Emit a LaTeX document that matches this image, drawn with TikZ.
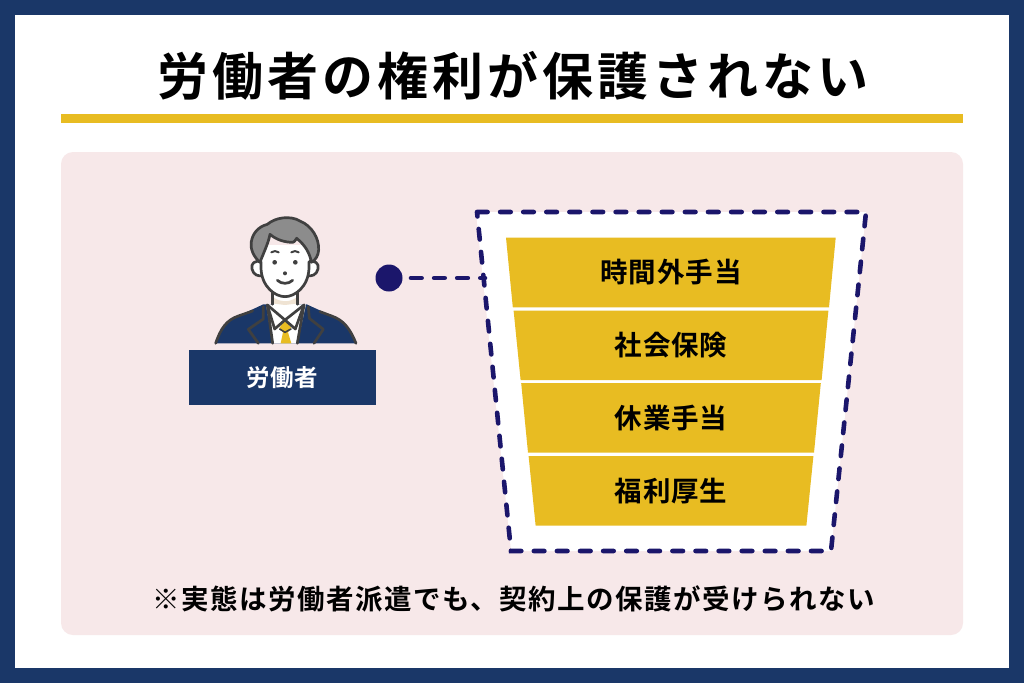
\documentclass[tikz,border=0pt]{standalone}
\usepackage{fontspec}
\newfontfamily\jbt{Noto Sans CJK JP Bold}[LetterSpace=8]
\newfontfamily\jbl{Noto Sans CJK JP Bold}[LetterSpace=5.5]
\newfontfamily\jbs{Noto Sans CJK JP Bold}[LetterSpace=3.5]
\newfontfamily\jbw{Noto Sans CJK JP Bold}[LetterSpace=2]
\definecolor{navy}{HTML}{1A3768}
\definecolor{gold}{HTML}{E8BC22}
\definecolor{pinkbg}{HTML}{F7E8E9}
\definecolor{dashc}{HTML}{1B166B}
\definecolor{hair}{HTML}{8C8C8C}
\definecolor{ink}{HTML}{404040}
\definecolor{neck}{HTML}{EFE3D3}
\tikzset{
 x=1pt,y=-1pt,
 level/.style={fill=gold,draw=none},
 levellabel/.style={font=\jbs\fontsize{27.5}{30}\selectfont,text=black,inner sep=0pt,anchor=center},
 dashline/.style={draw=dashc,line width=4.6pt,dash pattern=on 10.6pt off 12.5pt,line cap=round},
 figline/.style={draw=ink,line width=2.7pt,line join=round,line cap=round},
}
\begin{document}
\begin{tikzpicture}
\useasboundingbox (0,0) rectangle (1024,683);
\fill[navy] (0,0) rectangle (1024,683);
\fill[white] (15,15) rectangle (1009,668);
\node[inner sep=0pt,font=\jbt\fontsize{51}{55}\selectfont,text=black] (title) at (513,75.5) {労働者の権利が保護されない};
\fill[gold] (61,114) rectangle (963,123);
\fill[pinkbg,rounded corners=12pt] (61,152) rectangle (963,635);
\node[inner sep=0pt,font=\jbl\fontsize{27.5}{30}\selectfont,text=black] (note) at (513.5,599) {※実態は労働者派遣でも、契約上の保護が受けられない};
% frame
\fill[white] (476,212) -- (866,212) -- (831,551) -- (511,551) -- cycle;
\draw[dashline] (477,212) -- (866,212) -- (831,551) -- (511,551) -- cycle;
% levels
\fill[level] (506,237.7) -- (835.7,237.7) -- (829,307.3) -- (512.8,307.3) -- cycle;
\fill[level] (513.6,310.6) -- (828.4,310.6) -- (821.6,380) -- (520.6,380) -- cycle;
\fill[level] (521.2,383.2) -- (820.8,383.2) -- (814,452.6) -- (528,452.6) -- cycle;
\fill[level] (528.6,456) -- (813.4,456) -- (806.4,525.5) -- (535.6,525.5) -- cycle;
\node[levellabel] (l1) at (671,272) {時間外手当};
\node[levellabel] (l2) at (671,345.5) {社会保険};
\node[levellabel] (l3) at (671,418) {休業手当};
\node[levellabel] (l4) at (671,491) {福利厚生};
% connector
\node[circle,fill=dashc,inner sep=0pt,minimum size=27pt] (dotnode) at (389,278) {};
\coordinate (framepoint) at (485,278);
\draw[dashline] ([xshift=22pt]dotnode.center) -- (framepoint);
% label
\node[fill=navy,text=white,inner sep=0pt,minimum width=186.7pt,minimum height=54.7pt,font=\jbw\fontsize{23.5}{26}\selectfont] (worker) at (282.4,377.7) {労働者};
% person
\begin{scope}[shift={(180,205)},x=0.3333pt,y=-0.3333pt]
 % body
 \fill[navy] (107,415) .. controls (122,370) and (140,348) .. (175,333) -- (250,298) -- (380,298) -- (450,330) .. controls (490,348) and (510,370) .. (528,415) -- cycle;
 \draw[figline] (107,415) .. controls (122,370) and (140,345) .. (175,333) -- (218,318);
 \draw[figline] (528,415) .. controls (510,370) and (490,345) .. (455,333) -- (420,320);
 % shirt
 \fill[white] (258,298) -- (278,415) -- (352,415) -- (378,298) -- cycle;
 % neck
 \fill[white] (278,240) -- (278,300) -- (315,335) -- (352,300) -- (352,240) -- cycle;
 \fill[neck] (282,278) .. controls (300,292) and (332,292) .. (348,278) -- (348,296) -- (315,300) -- (282,296) -- cycle;
 % tie
 \fill[gold] (315,345) -- (333,368) -- (324,382) -- (334,415) -- (302,415) -- (309,382) -- (299,368) -- cycle;
 \draw[figline,line width=1.6pt] (299,372) -- (315,382) -- (333,372);
 % collar
 \draw[figline] (278,415) -- (262,300) -- (315,345) -- (372,300) -- (352,415);
 \draw[figline] (262,300) -- (284,372) -- (315,345) -- (346,372) -- (372,300);
 % lapels
 \draw[figline] (250,305) -- (250,342) -- (205,373) -- (235,415);
 \draw[figline] (385,305) -- (388,340) -- (430,373) -- (402,415);
 \draw[figline] (278,250) -- (278,298);
 \draw[figline] (352,250) -- (352,298);
 % ears
 \filldraw[figline,fill=white] (245,170) .. controls (225,165) and (212,175) .. (216,192) .. controls (220,210) and (235,215) .. (250,212) -- cycle;
 \filldraw[figline,fill=white] (385,170) .. controls (405,165) and (418,175) .. (414,192) .. controls (410,210) and (395,215) .. (380,212) -- cycle;
 % face
 \fill[white] (243,120) -- (243,190) .. controls (245,245) and (285,275) .. (315,275) .. controls (345,275) and (385,245) .. (387,190) -- (387,120) -- cycle;
 \draw[figline] (243,170) -- (243,190) .. controls (245,245) and (285,275) .. (315,275) .. controls (345,275) and (385,245) .. (387,190) -- (387,170);
 % hair
 \filldraw[figline,fill=hair] (240,172) .. controls (220,155) and (210,130) .. (214,110) .. controls (218,85) and (235,65) .. (262,58) .. controls (285,38) and (330,30) .. (360,48) .. controls (395,62) and (418,100) .. (416,135) .. controls (415,150) and (408,165) .. (394,172) .. controls (390,145) and (375,120) .. (350,100) .. controls (345,108) and (342,112) .. (338,112) .. controls (315,112) and (290,105) .. (270,88) .. controls (265,115) and (250,145) .. (240,172) -- cycle;
 % features
 \fill[ink] (284,172) circle[radius=7];
 \fill[ink] (346,172) circle[radius=7];
 \fill[ink] (315,205) circle[radius=6];
 \draw[figline,line width=2pt] (274,142) .. controls (280,137) and (290,137) .. (296,142);
 \draw[figline,line width=2pt] (334,142) .. controls (340,137) and (350,137) .. (356,142);
 \draw[figline] (292,226) .. controls (305,238) and (325,238) .. (338,226);
\end{scope}
\end{tikzpicture}
\end{document}
